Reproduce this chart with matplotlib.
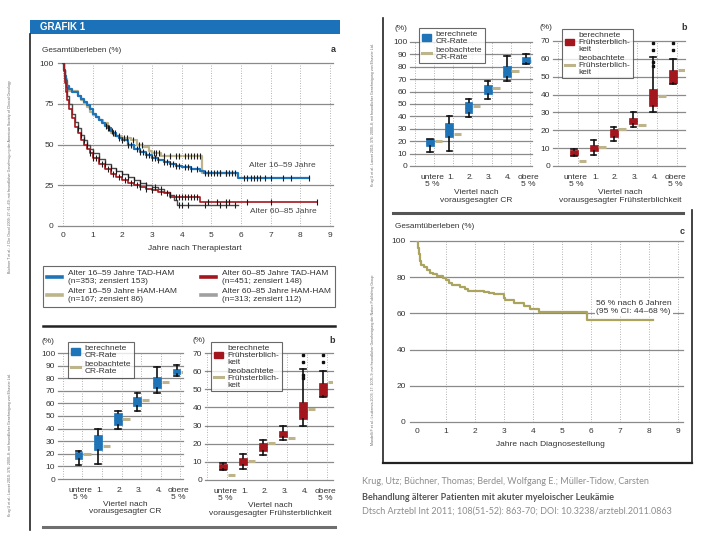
import numpy as np
import matplotlib
matplotlib.use("Agg")
import matplotlib.pyplot as plt
from matplotlib.lines import Line2D
from matplotlib.patches import Patch, Rectangle

plt.rcParams['font.family'] = ['Liberation Sans', 'DejaVu Sans']
plt.rcParams['font.size'] = 6

# ---------------- Daten ----------------
# Grafik a: Kaplan-Meier Gesamtueberleben (%), Jahre nach Therapiestart
jung_tad_t = [0, 0.03, 0.06, 0.1, 0.15, 0.2, 0.3, 0.5, 0.6, 0.7, 0.8, 0.9, 1.0, 1.1, 1.2, 1.3, 1.4,
              1.5, 1.6, 1.7, 1.8, 1.9, 2.0, 2.2, 2.4, 2.6, 2.8, 3.0, 3.2, 3.4, 3.6, 3.8, 4.0, 4.3,
              4.6, 4.75, 5.9, 8.3]
jung_tad_s = [100, 96, 92, 89, 86, 84, 82, 80, 78, 76, 74, 72, 69, 67, 65, 63, 61.5, 60, 58.5,
              57, 55.5, 54, 52.5, 50, 47.5, 45.5, 43.5, 42, 40.5, 39, 38, 37, 36, 35, 34, 32.5,
              29.5, 29.5]
jung_ham_t = [0, 0.03, 0.07, 0.12, 0.2, 0.5, 0.6, 0.7, 0.8, 0.9, 1.0, 1.1, 1.2, 1.35, 1.5, 1.6,
              1.75, 2.0, 2.3, 2.5, 2.7, 2.9, 3.0, 3.3, 4.7, 5.8]
jung_ham_s = [100, 95, 90, 86, 83, 80, 77, 75, 73, 70, 68, 67, 65, 63, 60, 57, 55.5, 54, 52.5,
              50, 48.5, 46, 45, 43, 32.5, 32.5]
alt_tad_t = [0, 0.02, 0.05, 0.1, 0.15, 0.2, 0.3, 0.4, 0.5, 0.6, 0.7, 0.8, 0.9, 1.0, 1.2, 1.4,
             1.6, 1.8, 2.0, 2.2, 2.4, 2.6, 2.8, 3.0, 3.2, 3.4, 3.6, 4.6, 8.55]
alt_tad_s = [100, 95, 88, 82, 77, 72, 66, 61, 57, 53, 50, 47, 44.5, 42, 38, 35, 32, 30, 28,
             26.5, 25, 24, 23, 22, 21, 20, 18, 15, 15]
alt_ham_t = [0, 0.02, 0.05, 0.1, 0.15, 0.2, 0.3, 0.4, 0.5, 0.6, 0.7, 0.8, 0.9, 1.0, 1.2, 1.4,
             1.6, 1.8, 2.0, 2.2, 2.4, 2.6, 2.8, 3.0, 3.2, 3.4, 3.6, 3.75, 3.85, 5.9]
alt_ham_s = [100, 96, 90, 85, 80, 75, 69, 64, 60, 56, 53, 50, 47.5, 45, 41, 38, 35.5, 33.5, 32,
             30, 28, 26.5, 25, 24, 22.5, 21, 19, 16, 13, 13]

# zensierte Patienten (Zeitpunkte der Striche)
jung_tad_cens = [1.45, 1.55, 1.65, 1.75, 1.9, 2.0, 2.2, 2.3, 2.5, 2.6, 2.7, 2.8, 2.9, 3.0, 3.1,
                 3.2, 3.4, 3.5, 3.6, 3.7, 3.8, 3.9, 4.1, 4.2, 4.3, 4.5, 4.8, 4.9, 5.0, 5.1, 5.2,
                 5.3, 5.5, 5.6, 5.7, 6.1, 6.2, 6.35, 6.45, 6.55, 6.65, 6.8, 7.0, 7.4, 7.7, 8.3]
jung_ham_cens = [1.5, 1.7, 1.9, 2.05, 2.15, 2.35, 2.55, 2.65, 3.05, 3.15, 3.25, 3.4, 3.6, 3.8,
                 3.9, 4.1, 4.2, 4.3, 4.4, 4.5, 4.6, 4.9, 5.3, 5.5, 5.8]
alt_tad_cens = [0.9, 1.0, 1.1, 1.3, 1.5, 1.7, 1.9, 2.1, 2.3, 2.5, 2.6, 2.8, 3.0, 3.3, 3.5, 3.8,
                3.9, 4.0, 4.1, 4.2, 4.3, 4.4, 4.5, 4.9, 5.2, 5.5, 5.6, 6.2, 7.0, 8.55]
alt_ham_cens = [0.5, 0.6, 0.7, 0.8, 1.0, 1.2, 1.4, 1.6, 1.8, 2.0, 2.2, 2.4, 2.6, 2.8, 3.1, 3.3,
                3.6, 3.9, 4.0, 4.2, 4.8, 5.3, 5.5, 5.8]

legend_a = ["Alter 16–59 Jahre TAD-HAM\n(n=353; zensiert 153)",
            "Alter 16–59 Jahre HAM-HAM\n(n=167; zensiert 86)",
            "Alter 60–85 Jahre TAD-HAM\n(n=451; zensiert 148)",
            "Alter 60–85 Jahre HAM-HAM\n(n=313; zensiert 112)"]

# Grafik b: berechnete (Boxplot) und beobachtete CR-Rate / Fruehsterblichkeit
kategorien = ["untere\n5 %", "1.", "2.", "3.", "4.", "obere\n5 %"]
cr_lo = [11.5, 12, 39.5, 54, 68.5, 82]
cr_q1 = [16, 23, 43, 58, 72, 83]
cr_med = [18.5, 28, 47, 61, 76, 85]
cr_q3 = [21.5, 35, 52, 65, 81, 87.5]
cr_hi = [22, 40, 54, 68.5, 89, 90.5]
cr_obs = [20, 26, 48, 63, 77, 85]

fs_lo = [5.5, 6, 14, 22, 30, 46]
fs_q1 = [6, 8.5, 16, 23.5, 33.5, 46.5]
fs_med = [7.5, 10, 18, 25, 38, 50]
fs_q3 = [9, 12, 20.5, 27, 43, 53.5]
fs_hi = [9.5, 14.5, 22, 30, 61, 60]
fs_fliers = [[], [], [], [], [56, 58, 65, 69], [65, 69]]
fs_obs = [3, 10.5, 20.5, 23, 39, 54]

# Grafik c: Gesamtueberleben (%), Jahre nach Diagnosestellung
c_t = [0, 0.03, 0.06, 0.1, 0.15, 0.25, 0.35, 0.45, 0.55, 0.7, 0.9, 1.0, 1.1, 1.2, 1.5, 1.65,
       1.75, 2.3, 2.5, 2.65, 3.0, 3.05, 3.35, 3.7, 3.9, 4.2, 5.85, 8.15]
c_s = [100, 96, 93, 89, 87, 85.5, 84, 82.5, 81.5, 80.5, 79.5, 78.5, 77, 75.5, 74.5, 73.5, 72.5,
       72, 71, 70.5, 68.5, 67.5, 65.5, 64, 62.5, 61, 56.5, 56.5]

BLUE = '#1f74b8'
BEIGE = '#bdb48c'
RED = '#a3161e'
DARK = '#4a4a4a'
LGREY = '#a0a0a0'
OLIVE = '#aba45e'
GRID = '#8a8a8a'
HEAD = '#1b72b8'

W, H = 720, 540
fig = plt.figure(figsize=(7.2, 5.4), dpi=100)


def px_axes(l, t, r, b):
    return fig.add_axes([l / W, 1 - b / H, (r - l) / W, (b - t) / H])


def fline(x0, y0, x1, y1, **kw):
    fig.add_artist(Line2D([x0 / W, x1 / W], [1 - y0 / H, 1 - y1 / H],
                          transform=fig.transFigure, **kw))


def ftext(x, y, s, **kw):
    fig.text(x / W, 1 - y / H, s, **kw)


def clean(ax):
    for sp in ax.spines.values():
        sp.set_visible(False)
    ax.tick_params(length=0, labelsize=6, colors='#333333')


def step_at(t, s, c):
    idx = np.searchsorted(t, c, side='right') - 1
    return np.asarray(s)[idx]


# ---------------- Rahmen / Linien ----------------
fig.add_artist(Rectangle((30 / W, 1 - 34 / H), 310 / W, 14 / H, transform=fig.transFigure,
                         color=HEAD, lw=0))
ftext(40, 27, "GRAFIK 1", color='white', fontsize=7, fontweight='bold', va='center',
      family=['Liberation Sans Narrow', 'Liberation Sans'])
fline(30, 34, 30, 530, color='#222222', lw=1.2)
fline(43, 326, 335, 326, color='#222222', lw=1.8)
fline(43, 527, 335, 527, color='#6f6f6f', lw=2.2)
fline(383, 18, 383, 463, color='#222222', lw=1.2)
fline(393, 213, 683, 213, color='#555555', lw=2.2)
fline(383, 463, 692, 463, color='#222222', lw=1.6)
fline(692, 210, 692, 463, color='#222222', lw=1.2)

for x, y, s in [(10, 177, "Büchner T et al.: J Clin Oncol 2009; 27: 61–69; mit freundlicher "
                 "Genehmigung der American Society of Clinical Oncology"),
                (10, 445, "Krug U et al.: Lancet 2010; 376: 2000–8; mit freundlicher "
                 "Genehmigung von Elsevier Ltd."),
                (373, 115, "Krug U et al.: Lancet 2010; 376: 2000–8; mit freundlicher "
                 "Genehmigung von Elsevier Ltd."),
                (373, 360, "Mandelli F et al.: Leukemia 2003; 17: 1005–9; mit freundlicher "
                 "Genehmigung der Nature Publishing Group")]:
    ftext(x, y, s, rotation=90, fontsize=2.6, color='#666666', ha='center', va='center')

# ---------------- Grafik a ----------------
ax = px_axes(58, 63, 333, 226)
ax.set_xlim(-0.17, 9.1)
ax.set_ylim(0, 100)
clean(ax)
for v in [0, 25, 50, 75, 100]:
    ax.axhline(v, color=GRID, lw=0.9, clip_on=False, zorder=1)
for v in range(10):
    ax.axvline(v, color='#9a9a9a', lw=0.6, ls=(0, (1, 2)), zorder=1)
ax.set_xticks(range(10))
ax.set_yticks([0, 25, 50, 75, 100])
ax.tick_params(axis='x', pad=4)
ax.tick_params(axis='y', pad=3)

kurven = [(jung_ham_t, jung_ham_s, jung_ham_cens, BEIGE, 1.6),
          (jung_tad_t, jung_tad_s, jung_tad_cens, BLUE, 1.6),
          (alt_ham_t, alt_ham_s, alt_ham_cens, DARK, 1.0),
          (alt_tad_t, alt_tad_s, alt_tad_cens, RED, 1.2)]
for t, s, cens, col, lw in kurven:
    ax.step(t, s, where='post', color=col, lw=lw, zorder=3)
    ax.plot(cens, step_at(t, s, cens), ls='none', marker='|', ms=4, mew=0.8,
            color='#1a1a1a', zorder=4)

ax.text(6.27, 37, "Alter 16–59 Jahre", fontsize=6.0, color='#444444', va='center')
ax.text(6.3, 9, "Alter 60–85 Jahre", fontsize=6.0, color='#444444', va='center')
ftext(42, 50, "Gesamtüberleben (%)", fontsize=5.9, color='#333333', va='center')
ftext(333, 50, "a", fontsize=6.5, fontweight='bold', color='#333333', va='center', ha='center')
ftext(195, 248, "Jahre nach Therapiestart", fontsize=6.0, color='#333333', va='center',
      ha='center')

lax = px_axes(43, 262, 335, 311)
lax.axis('off')
handles = [Line2D([], [], color=BLUE, lw=2.6), Line2D([], [], color=BEIGE, lw=2.6),
           Line2D([], [], color=RED, lw=2.6), Line2D([], [], color=LGREY, lw=2.6)]
lg = lax.legend(handles, legend_a, ncol=2, loc='center', bbox_to_anchor=(0, 0, 1, 1),
                mode='expand', frameon=True, fancybox=False, edgecolor='#444444',
                fontsize=6.0, handlelength=1.8, handletextpad=0.7, labelspacing=0.35,
                borderpad=0.45, borderaxespad=0, columnspacing=1.0)
lg.get_frame().set_linewidth(0.8)
for txt in lg.get_texts():
    txt.set_color('#333333')


# ---------------- Grafik b ----------------
def draw_b(rect_cr, rect_fs, xlim_cr, xlim_fs, leg_cr, leg_fs, pct_y, xlab_y):
    pos = np.arange(1, 7)
    panels = [
        (rect_cr, xlim_cr, (0, 100), range(0, 101, 10), BLUE,
         [cr_lo, cr_q1, cr_med, cr_q3, cr_hi], [[] for _ in pos], cr_obs,
         ["berechnete\nCR-Rate", "beobachtete\nCR-Rate"], leg_cr,
         "Viertel nach\nvorausgesagter CR", 0.54, -0.13),
        (rect_fs, xlim_fs, (0, 70), range(0, 71, 10), RED,
         [fs_lo, fs_q1, fs_med, fs_q3, fs_hi], fs_fliers, fs_obs,
         ["berechnete\nFrühsterblich-\nkeit", "beobachtete\nFrühsterblich-\nkeit"], leg_fs,
         "Viertel nach\nvorausgesagter Frühsterblichkeit", 0.51, -0.10),
    ]
    axes = []
    for rect, xl, yl, yt, col, vals, fl, obs, leg_lbl, leg_pos, xlab, xlab_x, pct_x in panels:
        a = px_axes(*rect)
        a.set_xlim(*xl)
        a.set_ylim(*yl)
        clean(a)
        for v in yt:
            a.axhline(v, color=GRID, lw=0.9, clip_on=False, zorder=1)
        for v in np.arange(0, 7) + 0.2:
            a.axvline(v, color='#9a9a9a', lw=0.6, ls=(0, (1, 2)), zorder=1)
        lo, q1, med, q3, hi = vals
        stats = [dict(whislo=lo[i], q1=q1[i], med=med[i], q3=q3[i], whishi=hi[i],
                      fliers=fl[i]) for i in range(6)]
        a.bxp(stats, positions=pos, widths=0.4, patch_artist=True, showfliers=True,
              capwidths=0.28,
              boxprops=dict(facecolor=col, edgecolor=col, lw=0.5),
              medianprops=dict(color=col, lw=0.8),
              whiskerprops=dict(color='#111111', lw=1.2),
              capprops=dict(color='#111111', lw=1.2),
              flierprops=dict(marker='s', ms=1.6, mfc='#111111', mec='#111111'),
              zorder=3)
        a.hlines(obs, pos + 0.24, pos + 0.62, color=BEIGE, lw=2.2, zorder=3)
        a.set_xticks(pos + 0.1)
        a.set_xticklabels(kategorien, linespacing=1.0)
        a.set_yticks(list(yt))
        a.tick_params(axis='x', pad=5.5)
        a.tick_params(axis='y', pad=2)
        a.text(xlab_x, xlab_y, xlab, transform=a.transAxes, ha='center', va='top',
               fontsize=6.0, color='#333333', linespacing=1.15)
        a.text(pct_x, pct_y, "(%)", transform=a.transAxes, ha='left', va='center',
               fontsize=6.0, color='#333333')
        hd = [Patch(facecolor=col, edgecolor=col), Line2D([], [], color=BEIGE, lw=2.2)]
        lgb = a.legend(hd, leg_lbl, loc='upper left', bbox_to_anchor=leg_pos,
                       frameon=True, fancybox=False, edgecolor='#444444', fontsize=6.0,
                       handlelength=1.1, handleheight=0.8, handletextpad=0.5,
                       labelspacing=0.2, borderpad=0.35, borderaxespad=0)
        lgb.get_frame().set_linewidth(0.8)
        for txt in lgb.get_texts():
            txt.set_color('#333333')
            txt.set_linespacing(1.0)
        axes.append(a)
    axes[1].text(0.99, pct_y, "b", transform=axes[1].transAxes, ha='center', va='center',
                 fontsize=6.5, fontweight='bold', color='#333333')


draw_b((58, 353, 183, 479), (205, 353, 333, 480), (-0.05, 6.33), (0.1, 6.5),
       (0.08, 1.087), (0.047, 1.087), 1.095, -0.172)
draw_b((410, 42, 532, 166), (553, 41, 685, 166), (-0.05, 6.31), (-0.05, 6.6),
       (0.074, 1.113), (0.068, 1.096), 1.11, -0.185)

# ---------------- Grafik c ----------------
cx = px_axes(410, 241, 683, 422)
cx.set_xlim(-0.24, 9.17)
cx.set_ylim(0, 100)
clean(cx)
for v in range(0, 101, 20):
    cx.axhline(v, color=GRID, lw=0.9, clip_on=False, zorder=1)
for v in range(1, 10):
    cx.axvline(v, color='#9a9a9a', lw=0.6, ls=(0, (1, 2)), zorder=1)
cx.set_xticks(range(10))
cx.set_yticks(range(0, 101, 20))
cx.tick_params(axis='x', pad=4)
cx.tick_params(axis='y', pad=3)
cx.step(c_t, c_s, where='post', color=OLIVE, lw=1.6, zorder=3)
cx.text(6.17, 63.3, "56 % nach 6 Jahren\n(95 % CI: 44–68 %)", fontsize=6.1, color='#333333',
        va='center', ha='left', linespacing=1.1, zorder=4,
        bbox=dict(facecolor='white', edgecolor='none', pad=1.0))
ftext(395, 227, "Gesamtüberleben (%)", fontsize=5.9, color='#333333', va='center')
ftext(682, 231, "c", fontsize=6.5, fontweight='bold', color='#333333', va='center',
      ha='center')
ftext(550, 444, "Jahre nach Diagnosestellung", fontsize=6.0, color='#333333', va='center',
      ha='center')

# ---------------- Quellenangabe ----------------
ftext(362, 482, "Krug, Utz; Büchner, Thomas; Berdel, Wolfgang E.; Müller-Tidow, Carsten",
      fontsize=6.5, color='#8c8c8c', va='center', family=['Lato', 'DejaVu Sans'])
ftext(362, 497, "Behandlung älterer Patienten mit akuter myeloischer Leukämie",
      fontsize=6.5, color='#555555', va='center', fontweight='bold',
      family=['Lato', 'DejaVu Sans'])
ftext(362, 511, "Dtsch Arztebl Int 2011; 108(51-52): 863-70; DOI: 10.3238/arztebl.2011.0863",
      fontsize=6.5, color='#8c8c8c', va='center', family=['Lato', 'DejaVu Sans'])

fig.savefig("out.png", dpi=100, facecolor='white')
